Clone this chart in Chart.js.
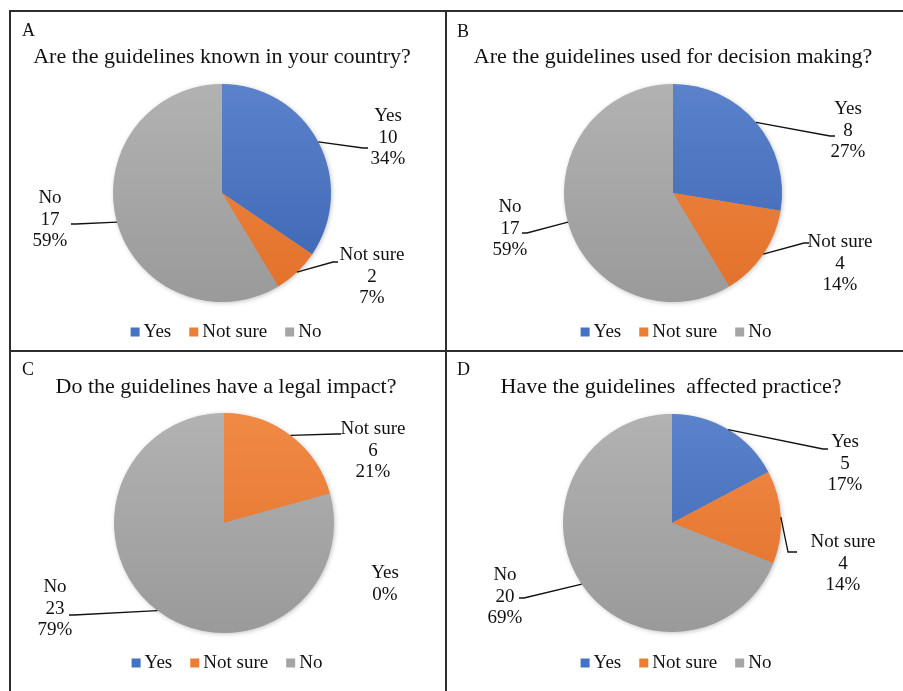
<!DOCTYPE html>
<html>
<head>
<meta charset="utf-8">
<script src="https://cdn.jsdelivr.net/npm/chart.js@4.4.1/dist/chart.umd.min.js"></script>
<style>
  html, body { margin: 0; padding: 0; background: #fff; }
  #page { position: relative; width: 903px; height: 691px; overflow: hidden; background: #fff; }
  #page canvas { position: absolute; }
  .rule { position: absolute; background: #2e2e2e; }
</style>
</head>
<body>
<div id="page">
  <canvas id="panelA"></canvas>
  <canvas id="panelB"></canvas>
  <canvas id="panelC"></canvas>
  <canvas id="panelD"></canvas>
  <div class="rule" style="left:9px;top:10px;width:894px;height:2px"></div>
  <div class="rule" style="left:9px;top:10px;width:2px;height:681px"></div>
  <div class="rule" style="left:445px;top:10px;width:2px;height:681px"></div>
  <div class="rule" style="left:9px;top:350px;width:894px;height:2px"></div>
</div>
<script>
// Survey answers, one array per question
const categories = ['Yes', 'Not sure', 'No'];

const knownCounts = [10, 2, 17];
const knownPercents = [34, 7, 59];

const decisionCounts = [8, 4, 17];
const decisionPercents = [27, 14, 59];

const legalCounts = [0, 6, 23];
const legalPercents = [0, 21, 79];

const practiceCounts = [5, 4, 20];
const practicePercents = [17, 14, 69];

const panelLetters = ['A', 'B', 'C', 'D'];
const questionTitles = [
  'Are the guidelines known in your country?',
  'Are the guidelines used for decision making?',
  'Do the guidelines have a legal impact?',
  'Have the guidelines  affected practice?'
];

// Office-like palette: base colour plus lighter/darker ends of the slice gradient
const sliceColors = ['#4472C4', '#ED7D31', '#A5A5A5'];
const sliceTop = ['#5B82CB', '#F08A45', '#B2B2B2'];
const sliceBottom = ['#3B64B2', '#E2702A', '#9A9A9A'];

const FONT = '"Liberation Serif", "Times New Roman", Times, serif';
const TEXT = '#111';

// Page layout of each panel; label offsets are measured from the pie centre
const panelLayout = [
  { id: 'panelA', counts: knownCounts, percents: knownPercents,
    left: 11, top: 12, w: 434, h: 338, cx: 222, cy: 193, r: 109,
    letterX: 22, letterY: 31, titleX: 222, titleY: 57, legendX: 226, legendY: 331,
    labels: [
      { dx: 166, dy: -55, ex: 141, ey: -45, stub: 5 },
      { dx: 150, dy: 84, ex: 111, ey: 69, stub: 5 },
      { dx: -172, dy: 27, ex: -146, ey: 31, stub: -5 }
    ] },
  { id: 'panelB', counts: decisionCounts, percents: decisionPercents,
    left: 447, top: 12, w: 456, h: 338, cx: 673, cy: 193, r: 109,
    letterX: 457, letterY: 32, titleX: 673, titleY: 57, legendX: 676, legendY: 331,
    labels: [
      { dx: 175, dy: -62, ex: 157, ey: -57, stub: 5 },
      { dx: 167, dy: 71, ex: 131, ey: 50, stub: 5 },
      { dx: -163, dy: 36, ex: -146, ey: 40, stub: -5 }
    ] },
  { id: 'panelC', counts: legalCounts, percents: legalPercents,
    left: 11, top: 352, w: 434, h: 339, cx: 224, cy: 523, r: 110,
    letterX: 22, letterY: 370, titleX: 226, titleY: 387, legendX: 227, legendY: 662,
    labels: [
      { dx: 161, dy: 61, ex: null },
      { dx: 149, dy: -72, ex: 112, ey: -89, stub: 5 },
      { dx: -169, dy: 86, ex: -150, ey: 92, stub: -5 }
    ] },
  { id: 'panelD', counts: practiceCounts, percents: practicePercents,
    left: 447, top: 352, w: 456, h: 339, cx: 672, cy: 523, r: 109,
    letterX: 457, letterY: 370, titleX: 671, titleY: 387, legendX: 676, legendY: 662,
    labels: [
      { dx: 173, dy: -59, ex: 151, ey: -74, stub: 5 },
      { dx: 171, dy: 41, ex: 116, ey: 29, stub: 9 },
      { dx: -167, dy: 74, ex: -148, ey: 75, stub: -5 }
    ] }
];

// Soft drop shadow under the whole pie
const pieShadow = {
  id: 'pieShadow',
  beforeDatasetsDraw(chart) {
    const arc = chart.getDatasetMeta(0).data.find(a => a);
    if (!arc) return;
    const ctx = chart.ctx;
    ctx.save();
    ctx.shadowColor = 'rgba(0,0,0,0.28)';
    ctx.shadowBlur = 5;
    ctx.shadowOffsetX = 1;
    ctx.shadowOffsetY = 1;
    ctx.fillStyle = '#a5a5a5';
    ctx.beginPath();
    ctx.arc(arc.x, arc.y, arc.outerRadius - 0.5, 0, Math.PI * 2);
    ctx.fill();
    ctx.restore();
  }
};

// Letter, question, data labels with leader lines, and legend
const panelText = {
  id: 'panelText',
  afterDraw(chart, args, opts) {
    const p = opts.panel;
    const ctx = chart.ctx;
    const ox = p.left, oy = p.top;
    ctx.save();
    ctx.fillStyle = TEXT;
    ctx.textBaseline = 'middle';

    ctx.font = '18px ' + FONT;
    ctx.textAlign = 'left';
    ctx.fillText(opts.letter, p.letterX - ox, p.letterY - oy);

    ctx.font = '22px ' + FONT;
    ctx.textAlign = 'center';
    ctx.fillText(opts.title, p.titleX - ox, p.titleY - oy);

    // data labels
    const meta = chart.getDatasetMeta(0);
    const data = chart.data.datasets[0].data;
    ctx.font = '19px ' + FONT;
    ctx.strokeStyle = '#111';
    ctx.lineWidth = 1.3;
    meta.data.forEach((arc, i) => {
      const lab = p.labels[i];
      const cx = arc.x, cy = arc.y;
      const lines = [categories[i]];
      if (data[i] > 0) lines.push(String(data[i]));
      lines.push(p.percents[i] + '%');
      const lh = 21.5;
      const y0 = cy + lab.dy - (lines.length - 1) * lh / 2;
      ctx.textAlign = 'center';
      lines.forEach((t, k) => ctx.fillText(t, cx + lab.dx, y0 + k * lh));
      if (lab.ex !== null && data[i] > 0) {
        const mid = (arc.startAngle + arc.endAngle) / 2;
        const sx = cx + Math.cos(mid) * arc.outerRadius;
        const sy = cy + Math.sin(mid) * arc.outerRadius;
        ctx.beginPath();
        ctx.moveTo(sx, sy);
        ctx.lineTo(cx + lab.ex, cy + lab.ey);
        ctx.lineTo(cx + lab.ex + lab.stub, cy + lab.ey);
        ctx.stroke();
      }
    });

    // legend
    ctx.font = '19px ' + FONT;
    const box = 9, gapBox = 4, gapItem = 18;
    const widths = categories.map(c => box + gapBox + ctx.measureText(c).width);
    const total = widths.reduce((a, b) => a + b, 0) + gapItem * (categories.length - 1);
    let x = p.legendX - ox - total / 2;
    const ly = p.legendY - oy;
    ctx.textAlign = 'left';
    categories.forEach((c, i) => {
      ctx.fillStyle = sliceColors[i];
      ctx.fillRect(x, ly - box / 2 + 1, box, box);
      ctx.fillStyle = TEXT;
      ctx.fillText(c, x + box + gapBox, ly + 1);
      x += widths[i] + gapItem;
    });
    ctx.restore();
  }
};

function sliceFill(context) {
  const i = context.dataIndex;
  const area = context.chart.chartArea;
  if (!area) return sliceColors[i];
  const g = context.chart.ctx.createLinearGradient(0, area.top, 0, area.bottom);
  g.addColorStop(0, sliceTop[i]);
  g.addColorStop(1, sliceBottom[i]);
  return g;
}

panelLayout.forEach((p, n) => {
  const canvas = document.getElementById(p.id);
  canvas.width = p.w;
  canvas.height = p.h;
  canvas.style.left = p.left + 'px';
  canvas.style.top = p.top + 'px';
  canvas.style.width = p.w + 'px';
  canvas.style.height = p.h + 'px';
  const cx = p.cx - p.left, cy = p.cy - p.top;
  new Chart(canvas, {
    type: 'pie',
    data: {
      labels: categories,
      datasets: [{
        data: p.counts,
        backgroundColor: sliceFill,
        borderWidth: 0
      }]
    },
    options: {
      responsive: false,
      animation: false,
      devicePixelRatio: 1,
      layout: {
        padding: {
          left: cx - p.r,
          top: cy - p.r,
          right: p.w - (cx + p.r),
          bottom: p.h - (cy + p.r)
        }
      },
      plugins: {
        legend: { display: false },
        title: { display: false },
        tooltip: { enabled: false },
        panelText: { panel: p, letter: panelLetters[n], title: questionTitles[n] }
      }
    },
    plugins: [pieShadow, panelText]
  });
});
</script>
</body>
</html>
